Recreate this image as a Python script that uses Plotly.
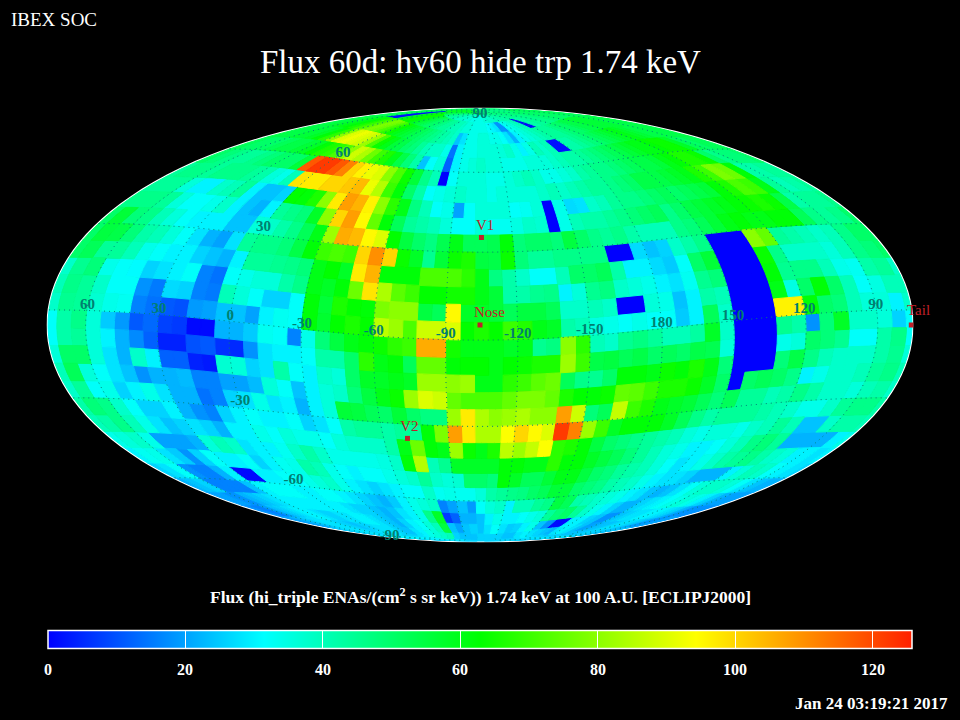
import plotly.graph_objects as go
from plotly.colors import sample_colorscale

# Rows run from ecliptic lat [84,90] down to [-90,-84]; columns run left to right
# from ecliptic lon [72,78] through decreasing longitude, 6 degrees each.
FLUX = [
[48,50,52,54,56,58,58,56,54,52, 50,48,46,44,44,42,42,40,40,38, 38,38,38,36,36,36,34,34,34,34, 34,34,36,36,38,38,38,40,40,40, 42,42,42,44,44,44,46,46,46,46, 48,48,48,46,46,46,46,46,48,48],
[52,52,52,2,2,2,2,58,60,62, 64,60,58,56,54,52,50,50,48,46, 44,44,42,40,40,38,36,36,34,34, 34,34,32,30,28,18,18,32,34,36, 38,40,1,1,42,42,44,44,46,46, 46,48,48,50,50,50,50,50,52,52],
[54,54,56,58,60,62,66,70,74,78, 76,72,68,64,60,58,56,54,52,50, 48,46,44,42,40,38,24,28,34,34, 36,36,34,34,32,28,22,30,34,36, 38,40,42,44,44,44,46,48,50,50, 52,54,54,56,56,56,56,54,54,54],
[54,54,54,56,56,58,62,68,80,90, 92,90,88,82,72,64,60,56,54,50, 48,44,40,38,38,34,14,30,34,34, 36,36,36,36,38,34,30,34,40,38, 40,2,2,42,42,44,46,48,50,52, 54,56,58,60,58,56,54,54,54,54],
[52,50,50,50,52,54,54,56,58,62, 66,68,72,80,88,84,76,70,66,60, 54,48,42,24,32,36,12,30,34,36, 38,36,36,34,34,34,36,36,36,38, 40,42,42,44,46,48,50,52,54,56, 58,60,60,62,64,64,58,52,50,52],
[50,48,46,44,44,46,48,50,50,50, 56,118,122,122,118,112,100,96,92,90, 80,72,64,56,46,40,0,32,36,36, 36,34,34,36,38,40,38,34,34,36, 38,42,44,46,46,48,50,52,54,54, 56,60,62,66,66,64,50,46,48,48],
[44,46,46,44,46,46,46,44,42,36, 34,40,98,97,97,100,100,102,104,92, 85,70,62,50,42,32,34,36,38,36, 36,34,36,36,36,36,38,40,38,40, 42,44,44,46,48,50,54,54,54,56, 58,60,66,70,78,76,62,42,42,44],
[44,44,44,36,30,30,38,40,44,30, 24,24,26,63,62,66,80,97,108,105, 96,80,68,60,47,40,32,34,20,32, 36,36,36,32,33,36,0,34,27,28, 38,40,44,46,46,48,50,52,50,52, 54,56,62,66,72,70,60,44,40,42],
[46,46,46,44,36,32,32,34,38,30, 24,22,30,44,46,48,58,80,100,108, 95,75,62,52,44,42,40,36,32,32, 36,33,33,35,38,37,0,34,40,42, 42,44,46,48,50,52,46,50,54,56, 58,60,62,64,66,64,54,42,44,44],
[50,56,48,46,40,36,32,30,30,30, 24,24,36,38,42,46,52,60,82,106, 104,95,90,63,55,50,47,53,60,52, 52,53,62,48,50,50,48,55,50,46, 44,46,42,40,40,40,46,48,52,56, 60,62,60,60,62,62,52,46,44,46],
[50,55,54,48,42,40,36,32,28,22, 20,28,44,46,46,48,54,62,70,72, 70,100,110,100,64,58,45,56,64,66, 55,54,64,48,44,44,46,46,46,46, 0,0,27,24,26,38,42,46,0,0, 0,80,75,44,42,40,38,40,46,50],
[50,52,44,44,40,34,32,30,30,26, 24,22,30,44,44,45,46,48,60,63, 58,97,105,62,62,62,72,72,72,68, 60,47,42,38,32,32,40,50,50,52, 42,30,30,27,25,32,50,56,0,0, 0,64,46,38,38,38,36,40,46,48],
[38,45,48,34,32,31,26,28,30,32, 16,14,32,34,36,36,42,46,60,58, 62,76,98,84,74,70,63,63,65,65, 60,56,42,42,45,46,30,36,45,47, 38,36,34,30,28,33,45,48,0,0, 0,62,45,46,46,40,34,33,42,44],
[40,46,44,38,32,32,18,15,27,26, 16,15,40,36,32,26,26,32,62,56, 66,63,62,78,80,80,55,52,95,58, 58,56,52,55,55,52,38,38,40,38, 0,0,36,34,24,30,42,40,0,0, 0,60,35,50,62,50,40,32,35,40],
[38,45,44,37,34,33,16,14,11,10, 19,20,24,24,20,30,33,32,62,57, 63,66,63,86,82,72,88,88,90,63, 66,63,70,67,60,58,42,40,35,34, 32,34,32,32,25,30,52,38,0,0, 0,96,96,62,50,48,40,36,36,30],
[32,42,46,36,25,19,11,13,8,7, 1,1,22,22,25,33,32,16,34,48, 55,60,62,64,68,70,106,106,65,60, 60,60,58,60,45,47,80,68,40,38, 45,47,44,40,40,43,58,38,0,0, 0,45,42,18,48,58,38,38,36,26],
[32,42,44,36,30,22,17,12,4,4, 10,11,6,5,18,28,30,30,32,42, 42,50,68,60,62,52,75,75,62,63, 63,60,63,64,66,66,82,70,54,55, 52,54,50,52,50,54,53,36,0,0, 0,34,36,50,48,45,32,32,42,46],
[36,50,50,36,28,22,38,30,12,12, 4,3,37,36,26,28,42,32,30,38, 36,50,58,58,60,58,82,82,80,82, 60,60,68,70,74,76,52,46,45,50, 62,62,60,64,62,66,60,48,0,0, 0,48,54,46,40,38,38,38,42,45],
[40,52,36,32,28,24,18,22,22,23, 16,16,20,20,23,36,32,24,30,36, 38,48,55,60,64,82,90,88,75,72, 72,72,75,78,78,75,66,63,62,64, 75,74,70,66,66,64,58,50,0,50, 52,50,46,30,34,38,38,40,44,46],
[38,44,32,34,26,30,34,28,22,22, 14,16,26,28,34,28,30,22,30,36, 56,55,52,50,56,50,47,47,82,97, 84,80,82,84,80,80,108,88,48,52, 87,70,66,60,58,56,52,48,52,44, 44,40,42,46,42,38,38,36,40,42],
[42,48,46,38,32,26,26,30,22,18, 16,26,30,32,30,30,32,26,28,32, 42,44,44,42,44,44,62,78,108,97, 84,84,94,100,95,90,122,112,82,70, 58,62,62,62,58,52,46,42,44,44, 44,42,40,38,34,34,38,44,46,46],
[40,42,46,40,34,28,24,26,28,26, 22,30,30,34,32,36,34,34,32,36, 38,38,38,42,60,76,62,60,82,64, 60,66,86,82,87,94,68,66,62,55, 50,48,46,44,42,40,36,34,36,36, 34,38,40,44,40,24,24,38,42,42],
[34,36,38,34,20,20,20,22,36,40, 38,28,30,30,33,38,42,38,34,34, 34,34,35,38,62,85,40,45,58,58, 58,58,62,62,60,60,68,62,62,58, 55,52,48,44,40,36,34,30,30,32, 36,40,46,48,44,22,22,22,22,30],
[30,33,34,28,25,18,26,32,30,30, 32,26,30,33,34,42,40,34,32,30, 32,32,34,36,38,44,38,36,37,50, 50,48,62,58,52,52,56,60,60,55, 50,48,44,42,40,36,32,28,30,34, 38,42,44,46,42,38,36,30,30,28],
[26,28,32,18,16,16,22,30,1,1, 30,30,32,32,34,36,38,34,30,28, 26,28,30,32,32,38,33,34,33,33, 36,42,44,46,47,50,52,56,56,50, 48,46,42,40,38,34,30,28,28,26, 22,22,22,30,36,40,38,32,30,28],
[22,24,26,16,16,16,16,24,30,32, 32,32,30,30,32,32,30,28,26,24, 22,25,30,34,36,38,16,20,24,19, 32,36,38,30,40,40,44,46,55,52, 42,40,38,36,34,30,28,24,22,24, 28,32,36,38,38,36,32,28,24,22],
[20,20,18,18,22,24,26,28,30,30, 30,30,30,30,30,28,26,26,24,22, 24,28,30,34,46,58,7,12,22,22, 24,30,34,30,30,32,34,36,44,48, 50,44,38,34,30,26,22,22,26,28, 30,32,34,36,34,30,26,22,20,20],
[18,16,16,20,24,26,28,30,30,28, 26,26,28,28,30,30,28,26,24,22, 26,30,32,36,40,55,24,20,24,26, 24,28,32,28,25,26,30,34,24,18, 1,1,30,30,26,24,18,18,24,26, 28,28,30,30,28,26,22,18,18,18],
[20,20,22,24,26,28,28,28,26,26, 24,24,26,26,28,28,28,26,24,24, 28,30,34,36,38,40,26,24,24,24, 26,26,26,26,24,24,28,30,28,26, 24,22,28,30,28,24,20,20,22,24, 24,26,28,28,26,24,20,18,18,20],
[24,24,26,26,28,28,28,28,26,26, 26,26,28,28,28,28,28,26,26,26, 28,28,30,30,30,30,28,28,26,26, 26,26,26,26,26,26,28,28,28,26, 26,24,26,26,26,24,24,24,24,24, 24,26,26,26,26,24,24,22,22,22],
]
FIRST_COL_LON = 78      # ecliptic lon of the left edge of column 0
CELL_DEG = 6
ZMAX = 125.7
CENTER_LON = 255.7
CENTER_LAT = 5.1
COLORSCALE = [[0, "#0000ff"], [0.25, "#00ffff"], [0.5, "#00ff00"], [0.75, "#ffff00"], [1, "#ff2000"]]
CB_TICKS = [0, 20, 40, 60, 80, 100, 120]

LON_LABELS = [60, 30, 0, -30, -60, -90, -120, -150, 180, 150, 120, 90]
LAT_LABELS = [90, 60, 30, -30, -60, -90]
GRID_LONS = list(range(-180, 180, 30))
GRID_LATS = [-60, -30, 0, 30, 60]
POINT_NAMES = ["\u00a0\u00a0\u00a0\u00a0\u00a0Nose", "\u00a0\u00a0V1", "\u00a0V2"]
POINT_LON = [255.7, 255.0, 289.0]
POINT_LAT = [5.1, 35.2, -35.3]
TAIL_LON = 76.0
TAIL_LAT = -5.1

SERIF = "Liberation Serif"
TEAL = "#007f70"
GRID = "#00807a"
RED = "#c0202a"


def wrap(lon):
    return (lon + 180) % 360 - 180


# group cells of equal value into one filled trace each
groups = {}
for r, row in enumerate(FLUX):
    lat_top = 90 - r * CELL_DEG
    lat_bot = lat_top - CELL_DEG
    for k, v in enumerate(row):
        # the map shows longitude growing to the left, so plot it negated
        w = wrap(-FIRST_COL_LON + k * CELL_DEG)
        e = w + CELL_DEG
        lons, lats = groups.setdefault(v, ([], []))
        lons += [w, w, e, e, w, None]
        lats += [lat_bot, lat_top, lat_top, lat_bot, lat_bot, None]

fig = go.Figure()
for v, (lons, lats) in sorted(groups.items()):
    col = sample_colorscale(COLORSCALE, min(v / ZMAX, 1))[0]
    fig.add_trace(go.Scattergeo(
        lon=lons, lat=lats, mode="lines", fill="toself", fillcolor=col,
        line=dict(width=1, color=col), hoverinfo="skip", showlegend=False,
    ))

# dotted graticule above the cells
grid_lon, grid_lat = [], []
for lon in GRID_LONS:
    for lat in range(-90, 91, 3):
        grid_lon.append(lon)
        grid_lat.append(lat)
    grid_lon.append(None)
    grid_lat.append(None)
for lat in GRID_LATS:
    for lon in range(-180, 181, 3):
        grid_lon.append(lon)
        grid_lat.append(lat)
    grid_lon.append(None)
    grid_lat.append(None)
fig.add_trace(go.Scattergeo(
    lon=grid_lon, lat=grid_lat, mode="lines", hoverinfo="skip", showlegend=False,
    line=dict(width=1, color=GRID, dash="1px,4px"),
))

# carrier of the colour bar
fig.add_trace(go.Scattergeo(
    lon=[-CENTER_LON], lat=[CENTER_LAT], mode="markers", hoverinfo="skip", showlegend=False,
    marker=dict(
        size=1, opacity=0, color=[0], cmin=0, cmax=ZMAX, colorscale=COLORSCALE, showscale=True,
        colorbar=dict(
            orientation="h", x=48 / 960, xanchor="left", y=1 - 668 / 720, yanchor="bottom",
            lenmode="pixels", len=864, thicknessmode="pixels", thickness=18,
            xpad=0, ypad=0, outlinecolor="white", outlinewidth=1.5,
            bordercolor="black", borderwidth=0,
            tickmode="array", tickvals=CB_TICKS, showticklabels=False,
            ticks="inside", ticklen=18, tickwidth=1, tickcolor="white",
        ),
    ),
))
fig.add_trace(go.Scattergeo(
    lon=[-v for v in LON_LABELS], lat=[1.7] * len(LON_LABELS), mode="text",
    text=[f"<b>{v}</b>" for v in LON_LABELS], textfont=dict(family=SERIF, size=15, color=TEAL),
    textposition="middle center", hoverinfo="skip", showlegend=False,
))
fig.add_trace(go.Scattergeo(
    lon=[0] * len(LAT_LABELS), lat=[v + 2.5 if abs(v) < 90 else v for v in LAT_LABELS], mode="text",
    text=[f"<b>{v}</b>" for v in LAT_LABELS], textfont=dict(family=SERIF, size=15, color=TEAL),
    textposition="middle center", hoverinfo="skip", showlegend=False,
))
fig.add_trace(go.Scattergeo(
    lon=[-v for v in POINT_LON], lat=POINT_LAT, mode="markers+text",
    text=POINT_NAMES, textfont=dict(family=SERIF, size=15, color=RED),
    textposition="top center",
    marker=dict(symbol="square", size=5, color=RED),
    hoverinfo="skip", showlegend=False,
))
fig.add_trace(go.Scattergeo(
    lon=[-TAIL_LON], lat=[TAIL_LAT], mode="markers",
    marker=dict(symbol="square", size=5, color=RED),
    hoverinfo="skip", showlegend=False,
))

fig.update_geos(
    domain=dict(x=[48 / 960, 912 / 960], y=[1 - 541 / 720, 1 - 109 / 720]),
    projection=dict(type="mollweide", rotation=dict(lon=360 - CENTER_LON, lat=CENTER_LAT, roll=0)),
    bgcolor="black",
    showframe=True, framecolor="white", framewidth=3,
    showland=False, showocean=False, showcoastlines=False, showcountries=False,
    showlakes=False, showrivers=False, showsubunits=False,
    lonaxis=dict(showgrid=False),
    lataxis=dict(showgrid=False),
)


def note(text, x, y, size, xanchor="center", color="white"):
    fig.add_annotation(text=text, xref="paper", yref="paper", x=x / 960, y=1 - y / 720,
                       xanchor=xanchor, yanchor="middle", showarrow=False,
                       font=dict(family=SERIF, size=size, color=color))


note("IBEX SOC", 9, 19, 19, "left")
note("Flux 60d: hv60 hide trp 1.74 keV", 480, 62, 33)
note("<b>Flux (hi_triple ENAs/(cm<sup>2</sup> s sr keV)) 1.74 keV at 100 A.U. [ECLIPJ2000]</b>", 480, 596, 17.5)
note("<b>Jan 24 03:19:21 2017</b>", 950, 703, 17, "right")
note("Tail", 918, 310, 15, "center", RED)
for t in CB_TICKS:
    note(f"<b>{t}</b>", 48 + 864 * t / ZMAX, 669, 16)

fig.update_layout(width=960, height=720, margin=dict(l=0, r=0, t=0, b=0),
                  paper_bgcolor="black", plot_bgcolor="black", showlegend=False)
fig.write_html(
    "out.html", config={"displayModeBar": False},
    post_script="document.body.style.margin='0';document.documentElement.style.background='black';document.documentElement.style.overflow='hidden';",
)
